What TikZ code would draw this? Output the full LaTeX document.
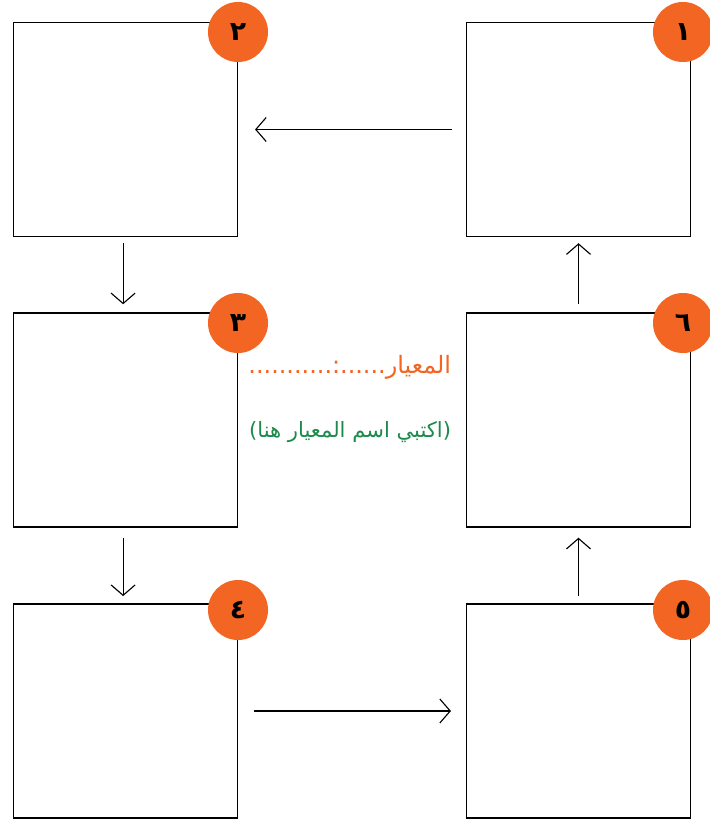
\documentclass[tikz,border=0pt]{standalone}
\usepackage{fontspec}
\usetikzlibrary{arrows.meta}
\newfontfamily\arabicfont[Script=Arabic]{DejaVu Sans}
\TeXXeTstate=1
\definecolor{tabOrange}{HTML}{F26522}
\definecolor{tabGreen}{HTML}{1C8A4B}

\begin{document}
\begin{tikzpicture}[x=0.025cm, y=-0.025cm,
	stage/.style={draw, line width=1pt, minimum width=5.6cm, minimum height=5.35cm, inner sep=0},
	badge/.style={circle, fill=tabOrange, minimum size=1.5cm, inner sep=0, font=\arabicfont\bfseries\fontsize{19}{19}\selectfont},
	flow/.style={-{Straight Barb[length=2.6mm, width=6mm]}, line width=0.8pt}]
	\useasboundingbox (0,0) rectangle (709,819);
	
	% Drawing the boxes
	\node[stage] (B1) at (578.5,129.5) {};
	\node[stage] (B2) at (125.5,129.5) {};
	\node[stage] (B3) at (125.5,420) {};
	\node[stage] (B4) at (125.5,711) {};
	\node[stage] (B5) at (578.5,711) {};
	\node[stage] (B6) at (578.5,420) {};
	
	% Drawing the numbered circles
	\node[badge] (N1) at (683,32) {١};
	\node[badge] (N2) at (238,32) {٢};
	\node[badge] (N3) at (238,323) {٣};
	\node[badge] (N4) at (238,610) {٤};
	\node[badge] (N5) at (683,610) {٥};
	\node[badge] (N6) at (683,323) {٦};
	
	% Drawing the arrows between the boxes
	\draw[flow, shorten <=0.35cm, shorten >=0.42cm] (B1) -- (B2);
	\draw[flow, shorten <=0.15cm, shorten >=0.2cm] ([xshift=-0.06cm]B2.south) -- ([xshift=-0.06cm]B3.north);
	\draw[flow, shorten <=0.25cm, shorten >=0.18cm] ([xshift=-0.06cm]B3.south) -- ([xshift=-0.06cm]B4.north);
	\draw[flow, shorten <=0.4cm, shorten >=0.37cm] (B4) -- (B5);
	\draw[flow, shorten <=0.18cm, shorten >=0.25cm] (B5.north) -- (B6.south);
	\draw[flow, shorten <=0.2cm, shorten >=0.15cm] (B6.north) -- (B1.south);
	
	% Drawing the labels in the middle
	\node[text=tabOrange, font=\arabicfont\fontsize{17}{17}\selectfont, anchor=east] (T1) at (456,367) {\beginR المعيار......:...........\endR};
	\node[text=tabGreen, font=\arabicfont\fontsize{15}{15}\selectfont, anchor=east] (T2) at (456,432) {\beginR (اكتبي اسم المعيار هنا)\endR};
\end{tikzpicture}
\end{document}
